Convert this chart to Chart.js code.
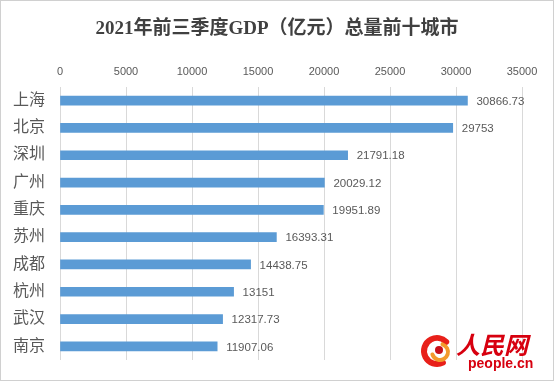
<!DOCTYPE html>
<html>
<head>
<meta charset="utf-8">
<script src="https://cdn.jsdelivr.net/npm/chart.js@4"></script>
<style>
html,body{margin:0;padding:0;background:#fff;}
#wrap{position:relative;width:554px;height:381px;}
</style>
</head>
<body>
<div id="wrap"><canvas id="c" width="554" height="381"></canvas></div>
<script>
const titleText = '2021年前三季度GDP（亿元）总量前十城市';
const cities = ['上海','北京','深圳','广州','重庆','苏州','成都','杭州','武汉','南京'];
const gdp = [30866.73, 29753, 21791.18, 20029.12, 19951.89, 16393.31, 14438.75, 13151, 12317.73, 11907.06];
const xTicks = [0, 5000, 10000, 15000, 20000, 25000, 30000, 35000];

const serif = '"Liberation Serif", "DejaVu Serif", "Noto Sans CJK SC", serif';
const sans = '"Liberation Sans", "Noto Sans", "Noto Sans CJK SC", sans-serif';

const valueLabels = {
  id: 'valueLabels',
  afterDatasetsDraw(chart) {
    const ctx = chart.ctx;
    const meta = chart.getDatasetMeta(0);
    ctx.save();
    ctx.font = '11.5px ' + sans;
    ctx.fillStyle = '#595959';
    ctx.textAlign = 'left';
    ctx.textBaseline = 'middle';
    meta.data.forEach((bar, i) => {
      ctx.fillText(String(gdp[i]), bar.x + 9, bar.y + 1);
    });
    ctx.restore();
  }
};

const frameAndLogo = {
  id: 'frameAndLogo',
  afterDraw(chart) {
    const ctx = chart.ctx;
    ctx.save();
    ctx.strokeStyle = '#d0d0d0';
    ctx.lineWidth = 1;
    ctx.strokeRect(0.5, 0.5, 553, 380);
    // logo swirl
    const cx = 437, cy = 351;
    ctx.lineCap = 'round';
    ctx.strokeStyle = '#e8201a';
    ctx.lineWidth = 6;
    ctx.beginPath(); ctx.arc(cx, cy, 13, Math.PI * 0.35, Math.PI * 1.75); ctx.stroke();
    ctx.strokeStyle = '#f39a2c';
    ctx.lineWidth = 4;
    ctx.beginPath(); ctx.arc(cx + 3, cy + 1, 8, -Math.PI * 0.4, Math.PI * 0.9); ctx.stroke();
    ctx.fillStyle = '#c8101a';
    ctx.beginPath(); ctx.arc(cx + 2, cy - 1, 4, 0, Math.PI * 2); ctx.fill();
    // text
    ctx.fillStyle = '#d7000f';
    ctx.textBaseline = 'alphabetic';
    ctx.textAlign = 'left';
    ctx.font = 'italic bold 24px "Noto Sans CJK SC", serif';
    ctx.fillText('人民网', 456, 354);
    ctx.font = 'bold 14px ' + sans;
    ctx.fillText('people.cn', 468, 368);
    ctx.restore();
  }
};

new Chart(document.getElementById('c'), {
  type: 'bar',
  data: {
    labels: cities,
    datasets: [{
      data: gdp,
      backgroundColor: '#5B9BD5',
      borderWidth: 0,
      barThickness: 9
    }]
  },
  options: {
    indexAxis: 'y',
    responsive: false,
    animation: false,
    devicePixelRatio: 1,
    layout: { padding: { left: 0, right: 0, top: 0, bottom: 21 } },
    plugins: {
      legend: { display: false },
      tooltip: { enabled: false },
      title: {
        display: true,
        text: titleText,
        color: '#404040',
        font: { family: serif, size: 19, weight: 'bold' },
        padding: { top: 18, bottom: 17 }
      }
    },
    scales: {
      x: {
        position: 'top',
        min: 0,
        max: 35000,
        afterBuildTicks(scale) { scale.ticks = xTicks.map(v => ({ value: v })); },
        ticks: {
          color: '#595959',
          font: { family: sans, size: 11 },
          padding: 8,
          callback: v => String(v)
        },
        grid: { color: '#d9d9d9', drawTicks: false, lineWidth: 1 },
        border: { display: false }
      },
      y: {
        afterFit(scale) { scale.width = 60; },
        ticks: {
          color: '#595959',
          font: { family: serif, size: 16 },
          padding: 7
        },
        grid: { display: false },
        border: { display: false }
      },
      yRight: {
        type: 'category',
        position: 'right',
        display: true,
        afterFit(scale) { scale.width = 32; },
        ticks: { display: false },
        grid: { display: false, drawTicks: false },
        border: { display: false }
      }
    }
  },
  plugins: [valueLabels, frameAndLogo]
});
</script>
</body>
</html>
